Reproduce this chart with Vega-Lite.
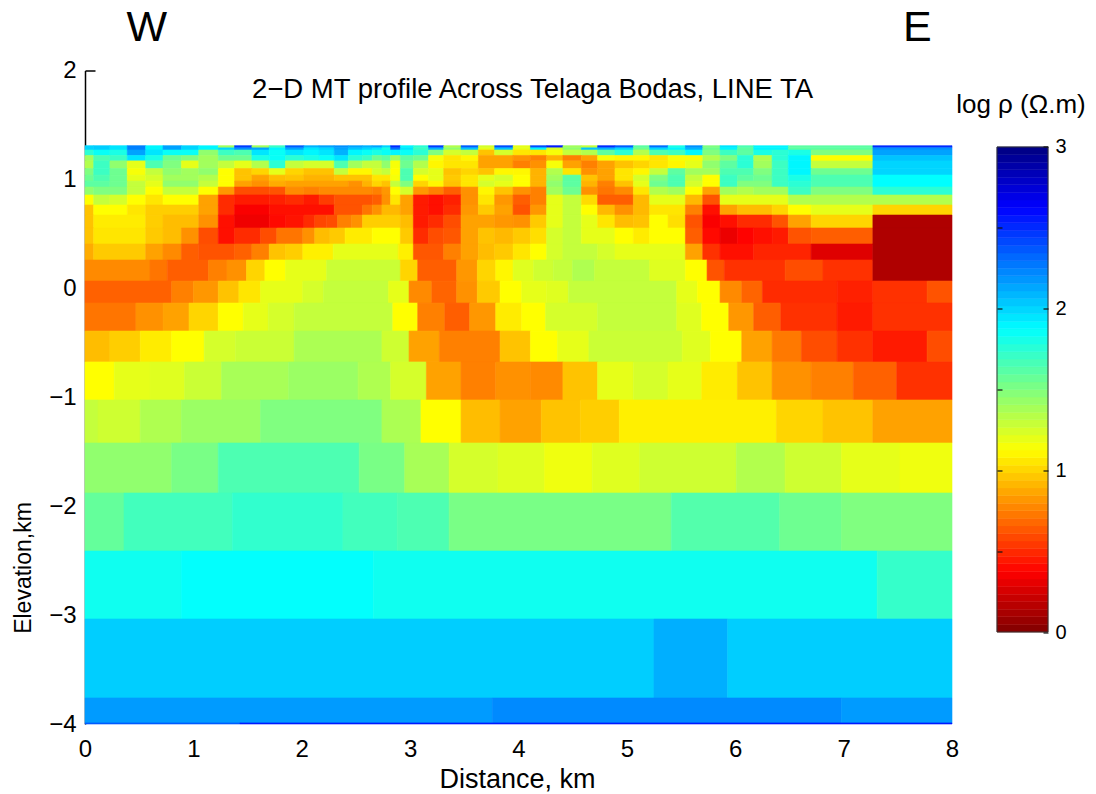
{
"$schema":"https://vega.github.io/schema/vega-lite/v6.json",
"padding":{"left":12,"top":6.5,"right":0,"bottom":0},
"background":"white",
"bounds":"flush",
"spacing":45,
"config":{"view":{"stroke":null},"font":"Liberation Sans"},
"datasets":{"cells":[
{"x":0,"x2":0.08,"y":1.31,"y2":1.27,"v":2.0},{"x":0.08,"x2":0.23,"y":1.31,"y2":1.27,"v":2.02},{"x":0.23,"x2":0.39,"y":1.31,"y2":1.27,"v":1.95},{"x":0.39,"x2":0.56,"y":1.31,"y2":1.27,"v":2.25},{"x":0.56,"x2":0.72,"y":1.31,"y2":1.27,"v":1.9},{"x":0.72,"x2":0.89,"y":1.31,"y2":1.27,"v":2.15},{"x":0.89,"x2":1.05,"y":1.31,"y2":1.27,"v":2.0},{"x":1.05,"x2":1.23,"y":1.31,"y2":1.27,"v":1.9},
{"x":1.23,"x2":1.38,"y":1.31,"y2":1.29,"v":1.4},{"x":1.38,"x2":1.54,"y":1.31,"y2":1.29,"v":2.45},{"x":1.54,"x2":1.7,"y":1.31,"y2":1.29,"v":1.4},{"x":1.7,"x2":1.85,"y":1.31,"y2":1.29,"v":1.7},{"x":1.85,"x2":2.02,"y":1.31,"y2":1.29,"v":2.35},{"x":2.02,"x2":2.16,"y":1.31,"y2":1.29,"v":2.1},{"x":2.16,"x2":2.3,"y":1.31,"y2":1.29,"v":2.15},{"x":2.3,"x2":2.43,"y":1.31,"y2":1.29,"v":2.2},{"x":2.43,"x2":2.56,"y":1.31,"y2":1.29,"v":2.15},{"x":2.56,"x2":2.65,"y":1.31,"y2":1.29,"v":2.1},{"x":2.65,"x2":2.74,"y":1.31,"y2":1.29,"v":2.15},{"x":2.74,"x2":2.82,"y":1.31,"y2":1.29,"v":2.0},{"x":2.82,"x2":2.91,"y":1.31,"y2":1.29,"v":2.5},{"x":2.91,"x2":3.03,"y":1.31,"y2":1.29,"v":1.9},{"x":3.03,"x2":3.17,"y":1.31,"y2":1.29,"v":1.75},{"x":3.17,"x2":3.31,"y":1.31,"y2":1.29,"v":2.45},{"x":3.31,"x2":3.47,"y":1.31,"y2":1.29,"v":1.35},{"x":3.47,"x2":3.63,"y":1.31,"y2":1.29,"v":2.35},{"x":3.63,"x2":3.78,"y":1.31,"y2":1.29,"v":1.25},{"x":3.78,"x2":3.95,"y":1.31,"y2":1.29,"v":2.4},{"x":3.95,"x2":4.11,"y":1.31,"y2":1.29,"v":1.2},{"x":4.11,"x2":4.26,"y":1.31,"y2":1.29,"v":2.4},{"x":4.26,"x2":4.41,"y":1.31,"y2":1.29,"v":2.55},{"x":4.41,"x2":4.58,"y":1.31,"y2":1.29,"v":1.4},{"x":4.58,"x2":4.73,"y":1.31,"y2":1.29,"v":1.3},{"x":4.73,"x2":4.89,"y":1.31,"y2":1.29,"v":2.5},{"x":4.89,"x2":5.06,"y":1.31,"y2":1.29,"v":2.35},{"x":5.06,"x2":5.21,"y":1.31,"y2":1.29,"v":1.6},{"x":5.21,"x2":5.38,"y":1.31,"y2":1.29,"v":2.3},{"x":5.38,"x2":5.54,"y":1.31,"y2":1.29,"v":1.8},{"x":5.54,"x2":5.7,"y":1.31,"y2":1.29,"v":2.2},{"x":5.7,"x2":5.86,"y":1.31,"y2":1.29,"v":1.5},{"x":5.86,"x2":6.02,"y":1.31,"y2":1.29,"v":1.95},{"x":6.02,"x2":6.17,"y":1.31,"y2":1.29,"v":1.65},{"x":6.17,"x2":6.49,"y":1.31,"y2":1.29,"v":1.9},{"x":6.49,"x2":7.27,"y":1.31,"y2":1.29,"v":1.6},{"x":7.27,"x2":8,"y":1.31,"y2":1.29,"v":2.5},
{"x":1.23,"x2":1.38,"y":1.29,"y2":1.27,"v":2.0},{"x":1.38,"x2":1.54,"y":1.29,"y2":1.27,"v":2.2},{"x":1.54,"x2":1.7,"y":1.29,"y2":1.27,"v":2.15},{"x":1.7,"x2":1.85,"y":1.29,"y2":1.27,"v":1.9},{"x":1.85,"x2":2.02,"y":1.29,"y2":1.27,"v":2.15},{"x":2.02,"x2":2.16,"y":1.29,"y2":1.27,"v":1.95},{"x":2.16,"x2":2.3,"y":1.29,"y2":1.27,"v":2.0},{"x":2.3,"x2":2.43,"y":1.29,"y2":1.27,"v":2.15},{"x":2.43,"x2":2.56,"y":1.29,"y2":1.27,"v":2.05},{"x":2.56,"x2":2.65,"y":1.29,"y2":1.27,"v":2.0},{"x":2.65,"x2":2.74,"y":1.29,"y2":1.27,"v":1.95},{"x":2.74,"x2":2.82,"y":1.29,"y2":1.27,"v":1.8},{"x":2.82,"x2":2.91,"y":1.29,"y2":1.27,"v":2.3},{"x":2.91,"x2":3.03,"y":1.29,"y2":1.27,"v":1.95},{"x":3.03,"x2":3.17,"y":1.29,"y2":1.27,"v":1.7},{"x":3.17,"x2":3.31,"y":1.29,"y2":1.27,"v":2.1},{"x":3.31,"x2":3.47,"y":1.29,"y2":1.27,"v":1.45},{"x":3.47,"x2":3.63,"y":1.29,"y2":1.27,"v":2.05},{"x":3.63,"x2":3.78,"y":1.29,"y2":1.27,"v":1.2},{"x":3.78,"x2":3.95,"y":1.29,"y2":1.27,"v":2.05},{"x":3.95,"x2":4.11,"y":1.29,"y2":1.27,"v":1.2},{"x":4.11,"x2":4.26,"y":1.29,"y2":1.27,"v":1.9},{"x":4.26,"x2":4.41,"y":1.29,"y2":1.27,"v":1.25},{"x":4.41,"x2":4.58,"y":1.29,"y2":1.27,"v":1.45},{"x":4.58,"x2":4.73,"y":1.29,"y2":1.27,"v":2.05},{"x":4.73,"x2":4.89,"y":1.29,"y2":1.27,"v":2.1},{"x":4.89,"x2":5.06,"y":1.29,"y2":1.27,"v":2.0},{"x":5.06,"x2":5.21,"y":1.29,"y2":1.27,"v":1.55},{"x":5.21,"x2":5.38,"y":1.29,"y2":1.27,"v":2.0},{"x":5.38,"x2":5.54,"y":1.29,"y2":1.27,"v":1.9},{"x":5.54,"x2":5.7,"y":1.29,"y2":1.27,"v":2.1},{"x":5.7,"x2":5.86,"y":1.29,"y2":1.27,"v":1.55},{"x":5.86,"x2":6.02,"y":1.29,"y2":1.27,"v":1.9},{"x":6.02,"x2":6.17,"y":1.29,"y2":1.27,"v":1.6},{"x":6.17,"x2":6.49,"y":1.29,"y2":1.27,"v":1.9},{"x":6.49,"x2":7.27,"y":1.29,"y2":1.27,"v":1.6},{"x":7.27,"x2":8,"y":1.29,"y2":1.27,"v":2.2},
{"x":0,"x2":0.08,"y":1.27,"y2":1.22,"v":1.75},{"x":0.08,"x2":0.23,"y":1.27,"y2":1.22,"v":1.85},{"x":0.23,"x2":0.39,"y":1.27,"y2":1.22,"v":1.8},{"x":0.39,"x2":0.56,"y":1.27,"y2":1.22,"v":2.15},{"x":0.56,"x2":0.72,"y":1.27,"y2":1.22,"v":1.95},{"x":0.72,"x2":1.05,"y":1.27,"y2":1.22,"v":1.85},{"x":1.05,"x2":1.23,"y":1.27,"y2":1.22,"v":1.45},{"x":1.23,"x2":1.38,"y":1.27,"y2":1.22,"v":1.7},{"x":1.38,"x2":1.54,"y":1.27,"y2":1.22,"v":1.65},{"x":1.54,"x2":1.7,"y":1.27,"y2":1.22,"v":1.95},{"x":1.7,"x2":1.85,"y":1.27,"y2":1.22,"v":1.85},{"x":1.85,"x2":2.02,"y":1.27,"y2":1.22,"v":1.95},{"x":2.02,"x2":2.16,"y":1.27,"y2":1.22,"v":1.9},{"x":2.16,"x2":2.3,"y":1.27,"y2":1.22,"v":1.95},{"x":2.3,"x2":2.43,"y":1.27,"y2":1.22,"v":2.1},{"x":2.43,"x2":2.56,"y":1.27,"y2":1.22,"v":1.9},{"x":2.56,"x2":2.65,"y":1.27,"y2":1.22,"v":1.85},{"x":2.65,"x2":2.74,"y":1.27,"y2":1.22,"v":1.8},{"x":2.74,"x2":2.82,"y":1.27,"y2":1.22,"v":1.85},{"x":2.82,"x2":2.91,"y":1.27,"y2":1.22,"v":1.9},{"x":2.91,"x2":3.03,"y":1.27,"y2":1.22,"v":1.85},{"x":3.03,"x2":3.17,"y":1.27,"y2":1.22,"v":1.75},{"x":3.17,"x2":3.31,"y":1.27,"y2":1.22,"v":1.5},{"x":3.31,"x2":3.47,"y":1.27,"y2":1.22,"v":1.25},{"x":3.47,"x2":3.63,"y":1.27,"y2":1.22,"v":1.3},{"x":3.63,"x2":3.78,"y":1.27,"y2":1.22,"v":0.95},{"x":3.78,"x2":3.95,"y":1.27,"y2":1.22,"v":1.25},{"x":3.95,"x2":4.11,"y":1.27,"y2":1.22,"v":1.05},{"x":4.11,"x2":4.26,"y":1.27,"y2":1.22,"v":1.05},{"x":4.26,"x2":4.41,"y":1.27,"y2":1.22,"v":1.15},{"x":4.41,"x2":4.58,"y":1.27,"y2":1.22,"v":1.3},{"x":4.58,"x2":4.73,"y":1.27,"y2":1.22,"v":1.35},{"x":4.73,"x2":4.89,"y":1.27,"y2":1.22,"v":1.6},{"x":4.89,"x2":5.06,"y":1.27,"y2":1.22,"v":1.75},{"x":5.06,"x2":5.21,"y":1.27,"y2":1.22,"v":1.35},{"x":5.21,"x2":5.38,"y":1.27,"y2":1.22,"v":1.65},{"x":5.38,"x2":5.54,"y":1.27,"y2":1.22,"v":1.7},{"x":5.54,"x2":5.7,"y":1.27,"y2":1.22,"v":1.9},{"x":5.7,"x2":5.86,"y":1.27,"y2":1.22,"v":1.5},{"x":5.86,"x2":6.02,"y":1.27,"y2":1.22,"v":1.7},{"x":6.02,"x2":6.17,"y":1.27,"y2":1.22,"v":1.6},{"x":6.17,"x2":6.34,"y":1.27,"y2":1.22,"v":1.8},{"x":6.34,"x2":6.49,"y":1.27,"y2":1.22,"v":1.75},{"x":6.49,"x2":6.7,"y":1.27,"y2":1.22,"v":1.8},{"x":6.7,"x2":7.27,"y":1.27,"y2":1.22,"v":1.5},{"x":7.27,"x2":8,"y":1.27,"y2":1.22,"v":2.15},
{"x":0,"x2":0.08,"y":1.22,"y2":1.17,"v":1.4},{"x":0.08,"x2":0.23,"y":1.22,"y2":1.17,"v":1.65},{"x":0.23,"x2":0.39,"y":1.22,"y2":1.17,"v":1.7},{"x":0.39,"x2":0.56,"y":1.22,"y2":1.17,"v":1.95},{"x":0.56,"x2":0.72,"y":1.22,"y2":1.17,"v":1.8},{"x":0.72,"x2":0.89,"y":1.22,"y2":1.17,"v":1.55},{"x":0.89,"x2":1.05,"y":1.22,"y2":1.17,"v":1.5},{"x":1.05,"x2":1.23,"y":1.22,"y2":1.17,"v":1.4},{"x":1.23,"x2":1.54,"y":1.22,"y2":1.17,"v":1.55},{"x":1.54,"x2":1.7,"y":1.22,"y2":1.17,"v":1.8},{"x":1.7,"x2":1.85,"y":1.22,"y2":1.17,"v":1.85},{"x":1.85,"x2":2.02,"y":1.22,"y2":1.17,"v":1.75},{"x":2.02,"x2":2.16,"y":1.22,"y2":1.17,"v":1.8},{"x":2.16,"x2":2.3,"y":1.22,"y2":1.17,"v":1.85},{"x":2.3,"x2":2.43,"y":1.22,"y2":1.17,"v":1.95},{"x":2.43,"x2":2.56,"y":1.22,"y2":1.17,"v":1.75},{"x":2.56,"x2":2.65,"y":1.22,"y2":1.17,"v":1.7},{"x":2.65,"x2":2.74,"y":1.22,"y2":1.17,"v":1.55},{"x":2.74,"x2":2.82,"y":1.22,"y2":1.17,"v":1.6},{"x":2.82,"x2":2.91,"y":1.22,"y2":1.17,"v":1.4},{"x":2.91,"x2":3.03,"y":1.22,"y2":1.17,"v":1.6},{"x":3.03,"x2":3.17,"y":1.22,"y2":1.17,"v":1.55},{"x":3.17,"x2":3.31,"y":1.22,"y2":1.17,"v":1.15},{"x":3.31,"x2":3.47,"y":1.22,"y2":1.17,"v":1.05},{"x":3.47,"x2":3.63,"y":1.22,"y2":1.17,"v":1.1},{"x":3.63,"x2":3.95,"y":1.22,"y2":1.17,"v":0.85},{"x":3.95,"x2":4.11,"y":1.22,"y2":1.17,"v":0.8},{"x":4.11,"x2":4.26,"y":1.22,"y2":1.17,"v":0.75},{"x":4.26,"x2":4.41,"y":1.22,"y2":1.17,"v":0.9},{"x":4.41,"x2":4.58,"y":1.22,"y2":1.17,"v":0.75},{"x":4.58,"x2":4.73,"y":1.22,"y2":1.17,"v":0.85},{"x":4.73,"x2":4.89,"y":1.22,"y2":1.17,"v":1.15},{"x":4.89,"x2":5.21,"y":1.22,"y2":1.17,"v":1.1},{"x":5.21,"x2":5.38,"y":1.22,"y2":1.17,"v":1.05},{"x":5.38,"x2":5.7,"y":1.22,"y2":1.17,"v":1.15},{"x":5.7,"x2":5.86,"y":1.22,"y2":1.17,"v":1.35},{"x":5.86,"x2":6.02,"y":1.22,"y2":1.17,"v":1.5},{"x":6.02,"x2":6.17,"y":1.22,"y2":1.17,"v":1.75},{"x":6.17,"x2":6.34,"y":1.22,"y2":1.17,"v":1.35},{"x":6.34,"x2":6.49,"y":1.22,"y2":1.17,"v":1.75},{"x":6.49,"x2":6.7,"y":1.22,"y2":1.17,"v":1.9},{"x":6.7,"x2":7.27,"y":1.22,"y2":1.17,"v":1.125},{"x":7.27,"x2":8,"y":1.22,"y2":1.17,"v":2.05},
{"x":0,"x2":0.08,"y":1.17,"y2":1.1,"v":1.35},{"x":0.08,"x2":0.23,"y":1.17,"y2":1.1,"v":1.7},{"x":0.23,"x2":0.39,"y":1.17,"y2":1.1,"v":1.45},{"x":0.39,"x2":0.56,"y":1.17,"y2":1.1,"v":1.2},{"x":0.56,"x2":0.72,"y":1.17,"y2":1.1,"v":1.65},{"x":0.72,"x2":0.89,"y":1.17,"y2":1.1,"v":1.5},{"x":0.89,"x2":1.05,"y":1.17,"y2":1.1,"v":1.2},{"x":1.05,"x2":1.23,"y":1.17,"y2":1.1,"v":1.4},{"x":1.23,"x2":1.38,"y":1.17,"y2":1.1,"v":1.3},{"x":1.38,"x2":1.54,"y":1.17,"y2":1.1,"v":1.2},{"x":1.54,"x2":1.7,"y":1.17,"y2":1.1,"v":1.35},{"x":1.7,"x2":1.85,"y":1.17,"y2":1.1,"v":1.75},{"x":1.85,"x2":2.02,"y":1.17,"y2":1.1,"v":1.3},{"x":2.02,"x2":2.3,"y":1.17,"y2":1.1,"v":1.25},{"x":2.3,"x2":2.43,"y":1.17,"y2":1.1,"v":1.65},{"x":2.43,"x2":2.56,"y":1.17,"y2":1.1,"v":1.4},{"x":2.56,"x2":2.74,"y":1.17,"y2":1.1,"v":1.3},{"x":2.74,"x2":2.82,"y":1.17,"y2":1.1,"v":1.45},{"x":2.82,"x2":2.91,"y":1.17,"y2":1.1,"v":1.15},{"x":2.91,"x2":3.03,"y":1.17,"y2":1.1,"v":1.55},{"x":3.03,"x2":3.17,"y":1.17,"y2":1.1,"v":1.35},{"x":3.17,"x2":3.31,"y":1.17,"y2":1.1,"v":1.1},{"x":3.31,"x2":3.63,"y":1.17,"y2":1.1,"v":1.05},{"x":3.63,"x2":3.95,"y":1.17,"y2":1.1,"v":0.85},{"x":3.95,"x2":4.11,"y":1.17,"y2":1.1,"v":0.75},{"x":4.11,"x2":4.26,"y":1.17,"y2":1.1,"v":0.8},{"x":4.26,"x2":4.41,"y":1.17,"y2":1.1,"v":1.15},{"x":4.41,"x2":4.58,"y":1.17,"y2":1.1,"v":0.85},{"x":4.58,"x2":4.73,"y":1.17,"y2":1.1,"v":0.75},{"x":4.73,"x2":4.89,"y":1.17,"y2":1.1,"v":0.85},{"x":4.89,"x2":5.06,"y":1.17,"y2":1.1,"v":0.95},{"x":5.06,"x2":5.21,"y":1.17,"y2":1.1,"v":1.0},{"x":5.21,"x2":5.38,"y":1.17,"y2":1.1,"v":1.05},{"x":5.38,"x2":5.54,"y":1.17,"y2":1.1,"v":1.1},{"x":5.54,"x2":5.7,"y":1.17,"y2":1.1,"v":1.2},{"x":5.7,"x2":5.86,"y":1.17,"y2":1.1,"v":1.45},{"x":5.86,"x2":6.02,"y":1.17,"y2":1.1,"v":1.6},{"x":6.02,"x2":6.17,"y":1.17,"y2":1.1,"v":1.75},{"x":6.17,"x2":6.34,"y":1.17,"y2":1.1,"v":1.4},{"x":6.34,"x2":6.49,"y":1.17,"y2":1.1,"v":1.7},{"x":6.49,"x2":6.7,"y":1.17,"y2":1.1,"v":1.9},{"x":6.7,"x2":7.27,"y":1.17,"y2":1.1,"v":1.3},{"x":7.27,"x2":8,"y":1.17,"y2":1.1,"v":2.0},
{"x":0,"x2":0.08,"y":1.1,"y2":1.04,"v":1.5},{"x":0.08,"x2":0.23,"y":1.1,"y2":1.04,"v":1.7},{"x":0.23,"x2":0.39,"y":1.1,"y2":1.04,"v":1.55},{"x":0.39,"x2":0.56,"y":1.1,"y2":1.04,"v":1.15},{"x":0.56,"x2":0.72,"y":1.1,"y2":1.04,"v":1.3},{"x":0.72,"x2":0.89,"y":1.1,"y2":1.04,"v":1.45},{"x":0.89,"x2":1.05,"y":1.1,"y2":1.04,"v":1.4},{"x":1.05,"x2":1.23,"y":1.1,"y2":1.04,"v":1.45},{"x":1.23,"x2":1.38,"y":1.1,"y2":1.04,"v":1.125},{"x":1.38,"x2":1.54,"y":1.1,"y2":1.04,"v":0.95},{"x":1.54,"x2":1.7,"y":1.1,"y2":1.04,"v":1.0},{"x":1.7,"x2":1.85,"y":1.1,"y2":1.04,"v":1.2},{"x":1.85,"x2":2.02,"y":1.1,"y2":1.04,"v":1.0},{"x":2.02,"x2":2.3,"y":1.1,"y2":1.04,"v":0.95},{"x":2.3,"x2":2.43,"y":1.1,"y2":1.04,"v":1.3},{"x":2.43,"x2":2.65,"y":1.1,"y2":1.04,"v":1.1},{"x":2.65,"x2":2.74,"y":1.1,"y2":1.04,"v":1.25},{"x":2.74,"x2":2.82,"y":1.1,"y2":1.04,"v":1.3},{"x":2.82,"x2":2.91,"y":1.1,"y2":1.04,"v":1.125},{"x":2.91,"x2":3.03,"y":1.1,"y2":1.04,"v":1.65},{"x":3.03,"x2":3.17,"y":1.1,"y2":1.04,"v":1.25},{"x":3.17,"x2":3.31,"y":1.1,"y2":1.04,"v":1.2},{"x":3.31,"x2":3.47,"y":1.1,"y2":1.04,"v":0.95},{"x":3.47,"x2":3.63,"y":1.1,"y2":1.04,"v":1.0},{"x":3.63,"x2":3.78,"y":1.1,"y2":1.04,"v":0.95},{"x":3.78,"x2":3.95,"y":1.1,"y2":1.04,"v":1.1},{"x":3.95,"x2":4.11,"y":1.1,"y2":1.04,"v":1.1},{"x":4.11,"x2":4.26,"y":1.1,"y2":1.04,"v":0.9},{"x":4.26,"x2":4.41,"y":1.1,"y2":1.04,"v":1.35},{"x":4.41,"x2":4.58,"y":1.1,"y2":1.04,"v":1.05},{"x":4.58,"x2":4.73,"y":1.1,"y2":1.04,"v":0.8},{"x":4.73,"x2":4.89,"y":1.1,"y2":1.04,"v":0.85},{"x":4.89,"x2":5.06,"y":1.1,"y2":1.04,"v":1.05},{"x":5.06,"x2":5.21,"y":1.1,"y2":1.04,"v":1.1},{"x":5.21,"x2":5.38,"y":1.1,"y2":1.04,"v":1.3},{"x":5.38,"x2":5.54,"y":1.1,"y2":1.04,"v":1.6},{"x":5.54,"x2":5.86,"y":1.1,"y2":1.04,"v":1.4},{"x":5.86,"x2":6.17,"y":1.1,"y2":1.04,"v":1.65},{"x":6.17,"x2":6.34,"y":1.1,"y2":1.04,"v":1.5},{"x":6.34,"x2":6.49,"y":1.1,"y2":1.04,"v":1.7},{"x":6.49,"x2":6.7,"y":1.1,"y2":1.04,"v":1.9},{"x":6.7,"x2":7.27,"y":1.1,"y2":1.04,"v":1.55},{"x":7.27,"x2":8,"y":1.1,"y2":1.04,"v":2.0},
{"x":0,"x2":0.08,"y":1.04,"y2":0.985,"v":1.55},{"x":0.08,"x2":0.23,"y":1.04,"y2":0.985,"v":1.65},{"x":0.23,"x2":0.39,"y":1.04,"y2":0.985,"v":1.55},{"x":0.39,"x2":0.56,"y":1.04,"y2":0.985,"v":1.2},{"x":0.56,"x2":0.72,"y":1.04,"y2":0.985,"v":1.25},{"x":0.72,"x2":1.05,"y":1.04,"y2":0.985,"v":1.4},{"x":1.05,"x2":1.23,"y":1.04,"y2":0.985,"v":1.35},{"x":1.23,"x2":1.38,"y":1.04,"y2":0.985,"v":1.125},{"x":1.38,"x2":1.54,"y":1.04,"y2":0.985,"v":0.95},{"x":1.54,"x2":1.7,"y":1.04,"y2":0.985,"v":0.85},{"x":1.7,"x2":1.85,"y":1.04,"y2":0.985,"v":0.93},{"x":1.85,"x2":2.02,"y":1.04,"y2":0.985,"v":0.95},{"x":2.02,"x2":2.3,"y":1.04,"y2":0.985,"v":0.9},{"x":2.3,"x2":2.65,"y":1.04,"y2":0.985,"v":0.95},{"x":2.65,"x2":2.82,"y":1.04,"y2":0.985,"v":1.05},{"x":2.82,"x2":2.91,"y":1.04,"y2":0.985,"v":1.15},{"x":2.91,"x2":3.03,"y":1.04,"y2":0.985,"v":1.65},{"x":3.03,"x2":3.17,"y":1.04,"y2":0.985,"v":1.125},{"x":3.17,"x2":3.31,"y":1.04,"y2":0.985,"v":1.2},{"x":3.31,"x2":3.47,"y":1.04,"y2":0.985,"v":0.97},{"x":3.47,"x2":3.63,"y":1.04,"y2":0.985,"v":1.05},{"x":3.63,"x2":3.78,"y":1.04,"y2":0.985,"v":1.2},{"x":3.78,"x2":3.95,"y":1.04,"y2":0.985,"v":1.25},{"x":3.95,"x2":4.11,"y":1.04,"y2":0.985,"v":1.125},{"x":4.11,"x2":4.26,"y":1.04,"y2":0.985,"v":0.9},{"x":4.26,"x2":4.41,"y":1.04,"y2":0.985,"v":1.4},{"x":4.41,"x2":4.58,"y":1.04,"y2":0.985,"v":1.6},{"x":4.58,"x2":4.73,"y":1.04,"y2":0.985,"v":0.95},{"x":4.73,"x2":4.89,"y":1.04,"y2":0.985,"v":0.85},{"x":4.89,"x2":5.06,"y":1.04,"y2":0.985,"v":1.05},{"x":5.06,"x2":5.21,"y":1.04,"y2":0.985,"v":1.25},{"x":5.21,"x2":5.38,"y":1.04,"y2":0.985,"v":1.5},{"x":5.38,"x2":5.54,"y":1.04,"y2":0.985,"v":1.65},{"x":5.54,"x2":5.7,"y":1.04,"y2":0.985,"v":1.3},{"x":5.7,"x2":5.86,"y":1.04,"y2":0.985,"v":1.125},{"x":5.86,"x2":6.02,"y":1.04,"y2":0.985,"v":1.7},{"x":6.02,"x2":6.17,"y":1.04,"y2":0.985,"v":1.6},{"x":6.17,"x2":6.34,"y":1.04,"y2":0.985,"v":1.55},{"x":6.34,"x2":6.49,"y":1.04,"y2":0.985,"v":1.7},{"x":6.49,"x2":6.7,"y":1.04,"y2":0.985,"v":1.8},{"x":6.7,"x2":7.27,"y":1.04,"y2":0.985,"v":1.65},{"x":7.27,"x2":8,"y":1.04,"y2":0.985,"v":1.875},
{"x":0,"x2":0.23,"y":0.985,"y2":0.93,"v":1.6},{"x":0.23,"x2":0.39,"y":0.985,"y2":0.93,"v":1.55},{"x":0.39,"x2":0.56,"y":0.985,"y2":0.93,"v":1.3},{"x":0.56,"x2":0.72,"y":0.985,"y2":0.93,"v":1.2},{"x":0.72,"x2":1.05,"y":0.985,"y2":0.93,"v":1.45},{"x":1.05,"x2":1.23,"y":0.985,"y2":0.93,"v":1.3},{"x":1.23,"x2":1.38,"y":0.985,"y2":0.93,"v":1.125},{"x":1.38,"x2":1.54,"y":0.985,"y2":0.93,"v":0.85},{"x":1.54,"x2":1.7,"y":0.985,"y2":0.93,"v":0.8},{"x":1.7,"x2":1.85,"y":0.985,"y2":0.93,"v":0.88},{"x":1.85,"x2":2.43,"y":0.985,"y2":0.93,"v":0.85},{"x":2.43,"x2":2.56,"y":0.985,"y2":0.93,"v":0.8},{"x":2.56,"x2":2.65,"y":0.985,"y2":0.93,"v":0.9},{"x":2.65,"x2":2.74,"y":0.985,"y2":0.93,"v":1.0},{"x":2.74,"x2":2.82,"y":0.985,"y2":0.93,"v":0.95},{"x":2.82,"x2":2.91,"y":0.985,"y2":0.93,"v":1.3},{"x":2.91,"x2":3.03,"y":0.985,"y2":0.93,"v":1.5},{"x":3.03,"x2":3.17,"y":0.985,"y2":0.93,"v":1.0},{"x":3.17,"x2":3.31,"y":0.985,"y2":0.93,"v":1.1},{"x":3.31,"x2":3.47,"y":0.985,"y2":0.93,"v":0.95},{"x":3.47,"x2":3.63,"y":0.985,"y2":0.93,"v":1.05},{"x":3.63,"x2":3.78,"y":0.985,"y2":0.93,"v":1.25},{"x":3.78,"x2":3.95,"y":0.985,"y2":0.93,"v":1.2},{"x":3.95,"x2":4.11,"y":0.985,"y2":0.93,"v":1.125},{"x":4.11,"x2":4.26,"y":0.985,"y2":0.93,"v":0.9},{"x":4.26,"x2":4.41,"y":0.985,"y2":0.93,"v":1.45},{"x":4.41,"x2":4.58,"y":0.985,"y2":0.93,"v":1.6},{"x":4.58,"x2":4.73,"y":0.985,"y2":0.93,"v":0.9},{"x":4.73,"x2":4.89,"y":0.985,"y2":0.93,"v":0.75},{"x":4.89,"x2":5.06,"y":0.985,"y2":0.93,"v":0.95},{"x":5.06,"x2":5.21,"y":0.985,"y2":0.93,"v":1.2},{"x":5.21,"x2":5.38,"y":0.985,"y2":0.93,"v":1.55},{"x":5.38,"x2":5.54,"y":0.985,"y2":0.93,"v":1.65},{"x":5.54,"x2":5.7,"y":0.985,"y2":0.93,"v":1.25},{"x":5.7,"x2":5.86,"y":0.985,"y2":0.93,"v":1.125},{"x":5.86,"x2":6.02,"y":0.985,"y2":0.93,"v":1.7},{"x":6.02,"x2":6.34,"y":0.985,"y2":0.93,"v":1.5},{"x":6.34,"x2":6.49,"y":0.985,"y2":0.93,"v":1.7},{"x":6.49,"x2":6.7,"y":0.985,"y2":0.93,"v":1.75},{"x":6.7,"x2":7.27,"y":0.985,"y2":0.93,"v":1.65},{"x":7.27,"x2":8,"y":0.985,"y2":0.93,"v":1.875},
{"x":0,"x2":0.08,"y":0.93,"y2":0.857,"v":1.45},{"x":0.08,"x2":0.39,"y":0.93,"y2":0.857,"v":1.5},{"x":0.39,"x2":0.56,"y":0.93,"y2":0.857,"v":1.3},{"x":0.56,"x2":0.72,"y":0.93,"y2":0.857,"v":1.125},{"x":0.72,"x2":1.05,"y":0.93,"y2":0.857,"v":1.3},{"x":1.05,"x2":1.23,"y":0.93,"y2":0.857,"v":1.125},{"x":1.23,"x2":1.38,"y":0.93,"y2":0.857,"v":0.82},{"x":1.38,"x2":1.7,"y":0.93,"y2":0.857,"v":0.6},{"x":1.7,"x2":1.85,"y":0.93,"y2":0.857,"v":0.62},{"x":1.85,"x2":2.02,"y":0.93,"y2":0.857,"v":0.78},{"x":2.02,"x2":2.16,"y":0.93,"y2":0.857,"v":0.75},{"x":2.16,"x2":2.65,"y":0.93,"y2":0.857,"v":0.78},{"x":2.65,"x2":2.74,"y":0.93,"y2":0.857,"v":0.75},{"x":2.74,"x2":2.82,"y":0.93,"y2":0.857,"v":0.82},{"x":2.82,"x2":2.91,"y":0.93,"y2":0.857,"v":1.125},{"x":2.91,"x2":3.03,"y":0.93,"y2":0.857,"v":1.25},{"x":3.03,"x2":3.17,"y":0.93,"y2":0.857,"v":0.82},{"x":3.17,"x2":3.31,"y":0.93,"y2":0.857,"v":0.75},{"x":3.31,"x2":3.47,"y":0.93,"y2":0.857,"v":0.65},{"x":3.47,"x2":3.63,"y":0.93,"y2":0.857,"v":0.8},{"x":3.63,"x2":3.78,"y":0.93,"y2":0.857,"v":1.1},{"x":3.78,"x2":3.95,"y":0.93,"y2":0.857,"v":0.95},{"x":3.95,"x2":4.11,"y":0.93,"y2":0.857,"v":0.8},{"x":4.11,"x2":4.26,"y":0.93,"y2":0.857,"v":0.75},{"x":4.26,"x2":4.41,"y":0.93,"y2":0.857,"v":1.4},{"x":4.41,"x2":4.58,"y":0.93,"y2":0.857,"v":1.55},{"x":4.58,"x2":4.73,"y":0.93,"y2":0.857,"v":0.8},{"x":4.73,"x2":4.89,"y":0.93,"y2":0.857,"v":0.72},{"x":4.89,"x2":5.06,"y":0.93,"y2":0.857,"v":0.78},{"x":5.06,"x2":5.21,"y":0.93,"y2":0.857,"v":1.05},{"x":5.21,"x2":5.38,"y":0.93,"y2":0.857,"v":1.35},{"x":5.38,"x2":5.54,"y":0.93,"y2":0.857,"v":1.4},{"x":5.54,"x2":5.7,"y":0.93,"y2":0.857,"v":1.125},{"x":5.7,"x2":5.86,"y":0.93,"y2":0.857,"v":0.85},{"x":5.86,"x2":6.02,"y":0.93,"y2":0.857,"v":1.4},{"x":6.02,"x2":6.17,"y":0.93,"y2":0.857,"v":1.35},{"x":6.17,"x2":6.49,"y":0.93,"y2":0.857,"v":1.4},{"x":6.49,"x2":6.7,"y":0.93,"y2":0.857,"v":1.7},{"x":6.7,"x2":7.27,"y":0.93,"y2":0.857,"v":1.5},{"x":7.27,"x2":8,"y":0.93,"y2":0.857,"v":1.75},
{"x":0,"x2":0.08,"y":0.857,"y2":0.765,"v":1.125},{"x":0.08,"x2":0.23,"y":0.857,"y2":0.765,"v":1.3},{"x":0.23,"x2":0.39,"y":0.857,"y2":0.765,"v":1.25},{"x":0.39,"x2":0.56,"y":0.857,"y2":0.765,"v":1.125},{"x":0.56,"x2":0.72,"y":0.857,"y2":0.765,"v":1.05},{"x":0.72,"x2":1.05,"y":0.857,"y2":0.765,"v":1.125},{"x":1.05,"x2":1.23,"y":0.857,"y2":0.765,"v":0.85},{"x":1.23,"x2":1.38,"y":0.857,"y2":0.765,"v":0.5},{"x":1.38,"x2":1.7,"y":0.857,"y2":0.765,"v":0.45},{"x":1.7,"x2":1.85,"y":0.857,"y2":0.765,"v":0.47},{"x":1.85,"x2":2.02,"y":0.857,"y2":0.765,"v":0.5},{"x":2.02,"x2":2.16,"y":0.857,"y2":0.765,"v":0.45},{"x":2.16,"x2":2.3,"y":0.857,"y2":0.765,"v":0.55},{"x":2.3,"x2":2.65,"y":0.857,"y2":0.765,"v":0.62},{"x":2.65,"x2":2.74,"y":0.857,"y2":0.765,"v":0.65},{"x":2.74,"x2":2.82,"y":0.857,"y2":0.765,"v":0.8},{"x":2.82,"x2":2.91,"y":0.857,"y2":0.765,"v":1.05},{"x":2.91,"x2":3.03,"y":0.857,"y2":0.765,"v":0.85},{"x":3.03,"x2":3.17,"y":0.857,"y2":0.765,"v":0.45},{"x":3.17,"x2":3.31,"y":0.857,"y2":0.765,"v":0.42},{"x":3.31,"x2":3.47,"y":0.857,"y2":0.765,"v":0.47},{"x":3.47,"x2":3.63,"y":0.857,"y2":0.765,"v":0.8},{"x":3.63,"x2":3.78,"y":0.857,"y2":0.765,"v":1.05},{"x":3.78,"x2":3.95,"y":0.857,"y2":0.765,"v":0.82},{"x":3.95,"x2":4.11,"y":0.857,"y2":0.765,"v":0.65},{"x":4.11,"x2":4.26,"y":0.857,"y2":0.765,"v":0.75},{"x":4.26,"x2":4.41,"y":0.857,"y2":0.765,"v":1.2},{"x":4.41,"x2":4.58,"y":0.857,"y2":0.765,"v":1.3},{"x":4.58,"x2":4.73,"y":0.857,"y2":0.765,"v":1.02},{"x":4.73,"x2":5.06,"y":0.857,"y2":0.765,"v":0.65},{"x":5.06,"x2":5.21,"y":0.857,"y2":0.765,"v":0.92},{"x":5.21,"x2":5.54,"y":0.857,"y2":0.765,"v":1.2},{"x":5.54,"x2":5.7,"y":0.857,"y2":0.765,"v":0.92},{"x":5.7,"x2":5.86,"y":0.857,"y2":0.765,"v":0.62},{"x":5.86,"x2":6.49,"y":0.857,"y2":0.765,"v":1.2},{"x":6.49,"x2":8,"y":0.857,"y2":0.765,"v":1.35},
{"x":0,"x2":0.08,"y":0.765,"y2":0.673,"v":0.95},{"x":0.08,"x2":0.39,"y":0.765,"y2":0.673,"v":1.125},{"x":0.39,"x2":0.56,"y":0.765,"y2":0.673,"v":1.05},{"x":0.56,"x2":1.05,"y":0.765,"y2":0.673,"v":0.98},{"x":1.05,"x2":1.23,"y":0.765,"y2":0.673,"v":0.85},{"x":1.23,"x2":1.38,"y":0.765,"y2":0.673,"v":0.5},{"x":1.38,"x2":1.7,"y":0.765,"y2":0.673,"v":0.36},{"x":1.7,"x2":2.3,"y":0.765,"y2":0.673,"v":0.42},{"x":2.3,"x2":2.56,"y":0.765,"y2":0.673,"v":0.62},{"x":2.56,"x2":2.65,"y":0.765,"y2":0.673,"v":0.72},{"x":2.65,"x2":2.74,"y":0.765,"y2":0.673,"v":0.8},{"x":2.74,"x2":2.91,"y":0.765,"y2":0.673,"v":0.92},{"x":2.91,"x2":3.03,"y":0.765,"y2":0.673,"v":0.85},{"x":3.03,"x2":3.17,"y":0.765,"y2":0.673,"v":0.45},{"x":3.17,"x2":3.31,"y":0.765,"y2":0.673,"v":0.42},{"x":3.31,"x2":3.47,"y":0.765,"y2":0.673,"v":0.5},{"x":3.47,"x2":3.63,"y":0.765,"y2":0.673,"v":0.82},{"x":3.63,"x2":3.78,"y":0.765,"y2":0.673,"v":0.97},{"x":3.78,"x2":3.95,"y":0.765,"y2":0.673,"v":0.85},{"x":3.95,"x2":4.11,"y":0.765,"y2":0.673,"v":0.62},{"x":4.11,"x2":4.26,"y":0.765,"y2":0.673,"v":0.82},{"x":4.26,"x2":4.41,"y":0.765,"y2":0.673,"v":1.2},{"x":4.41,"x2":4.58,"y":0.765,"y2":0.673,"v":1.3},{"x":4.58,"x2":4.73,"y":0.765,"y2":0.673,"v":1.125},{"x":4.73,"x2":4.89,"y":0.765,"y2":0.673,"v":0.92},{"x":4.89,"x2":5.06,"y":0.765,"y2":0.673,"v":0.8},{"x":5.06,"x2":5.21,"y":0.765,"y2":0.673,"v":0.92},{"x":5.21,"x2":5.54,"y":0.765,"y2":0.673,"v":1.05},{"x":5.54,"x2":5.7,"y":0.765,"y2":0.673,"v":0.75},{"x":5.7,"x2":5.86,"y":0.765,"y2":0.673,"v":0.42},{"x":5.86,"x2":6.02,"y":0.765,"y2":0.673,"v":0.85},{"x":6.02,"x2":6.34,"y":0.765,"y2":0.673,"v":0.93},{"x":6.34,"x2":6.49,"y":0.765,"y2":0.673,"v":1.0},{"x":6.49,"x2":6.7,"y":0.765,"y2":0.673,"v":1.125},{"x":6.7,"x2":7.27,"y":0.765,"y2":0.673,"v":1.2},{"x":7.27,"x2":8,"y":0.765,"y2":0.673,"v":1.0},
{"x":0,"x2":0.08,"y":0.673,"y2":0.554,"v":0.95},{"x":0.08,"x2":0.56,"y":0.673,"y2":0.554,"v":1.07},{"x":0.56,"x2":0.72,"y":0.673,"y2":0.554,"v":0.98},{"x":0.72,"x2":1.05,"y":0.673,"y2":0.554,"v":0.93},{"x":1.05,"x2":1.23,"y":0.673,"y2":0.554,"v":0.8},{"x":1.23,"x2":1.38,"y":0.673,"y2":0.554,"v":0.42},{"x":1.38,"x2":1.7,"y":0.673,"y2":0.554,"v":0.33},{"x":1.7,"x2":1.85,"y":0.673,"y2":0.554,"v":0.4},{"x":1.85,"x2":2.02,"y":0.673,"y2":0.554,"v":0.43},{"x":2.02,"x2":2.12,"y":0.673,"y2":0.554,"v":0.5},{"x":2.12,"x2":2.23,"y":0.673,"y2":0.554,"v":0.58},{"x":2.23,"x2":2.33,"y":0.673,"y2":0.554,"v":0.6},{"x":2.33,"x2":2.46,"y":0.673,"y2":0.554,"v":0.75},{"x":2.46,"x2":2.56,"y":0.673,"y2":0.554,"v":0.8},{"x":2.56,"x2":2.91,"y":0.673,"y2":0.554,"v":0.98},{"x":2.91,"x2":3.03,"y":0.673,"y2":0.554,"v":0.93},{"x":3.03,"x2":3.17,"y":0.673,"y2":0.554,"v":0.45},{"x":3.17,"x2":3.31,"y":0.673,"y2":0.554,"v":0.5},{"x":3.31,"x2":3.47,"y":0.673,"y2":0.554,"v":0.6},{"x":3.47,"x2":3.78,"y":0.673,"y2":0.554,"v":0.85},{"x":3.78,"x2":3.95,"y":0.673,"y2":0.554,"v":0.82},{"x":3.95,"x2":4.11,"y":0.673,"y2":0.554,"v":0.8},{"x":4.11,"x2":4.26,"y":0.673,"y2":0.554,"v":0.97},{"x":4.26,"x2":4.41,"y":0.673,"y2":0.554,"v":1.2},{"x":4.41,"x2":4.58,"y":0.673,"y2":0.554,"v":1.3},{"x":4.58,"x2":4.73,"y":0.673,"y2":0.554,"v":1.2},{"x":4.73,"x2":4.89,"y":0.673,"y2":0.554,"v":1.05},{"x":4.89,"x2":5.06,"y":0.673,"y2":0.554,"v":0.93},{"x":5.06,"x2":5.21,"y":0.673,"y2":0.554,"v":0.95},{"x":5.21,"x2":5.38,"y":0.673,"y2":0.554,"v":1.125},{"x":5.38,"x2":5.54,"y":0.673,"y2":0.554,"v":1.03},{"x":5.54,"x2":5.7,"y":0.673,"y2":0.554,"v":0.62},{"x":5.7,"x2":5.86,"y":0.673,"y2":0.554,"v":0.36},{"x":5.86,"x2":6.02,"y":0.673,"y2":0.554,"v":0.42},{"x":6.02,"x2":6.34,"y":0.673,"y2":0.554,"v":0.5},{"x":6.34,"x2":6.49,"y":0.673,"y2":0.554,"v":0.62},{"x":6.49,"x2":6.7,"y":0.673,"y2":0.554,"v":0.85},{"x":6.7,"x2":7.27,"y":0.673,"y2":0.554,"v":1.0},{"x":7.27,"x2":8,"y":0.673,"y2":0.554,"v":0.14},
{"x":0,"x2":0.08,"y":0.554,"y2":0.407,"v":0.95},{"x":0.08,"x2":0.56,"y":0.554,"y2":0.407,"v":1.05},{"x":0.56,"x2":0.72,"y":0.554,"y2":0.407,"v":0.97},{"x":0.72,"x2":0.89,"y":0.554,"y2":0.407,"v":0.93},{"x":0.89,"x2":1.05,"y":0.554,"y2":0.407,"v":0.8},{"x":1.05,"x2":1.23,"y":0.554,"y2":0.407,"v":0.6},{"x":1.23,"x2":1.38,"y":0.554,"y2":0.407,"v":0.42},{"x":1.38,"x2":1.62,"y":0.554,"y2":0.407,"v":0.5},{"x":1.62,"x2":1.77,"y":0.554,"y2":0.407,"v":0.6},{"x":1.77,"x2":2.01,"y":0.554,"y2":0.407,"v":0.72},{"x":2.01,"x2":2.12,"y":0.554,"y2":0.407,"v":0.8},{"x":2.12,"x2":2.26,"y":0.554,"y2":0.407,"v":0.93},{"x":2.26,"x2":2.4,"y":0.554,"y2":0.407,"v":0.97},{"x":2.4,"x2":2.65,"y":0.554,"y2":0.407,"v":1.07},{"x":2.65,"x2":2.91,"y":0.554,"y2":0.407,"v":1.125},{"x":2.91,"x2":3.03,"y":0.554,"y2":0.407,"v":0.97},{"x":3.03,"x2":3.17,"y":0.554,"y2":0.407,"v":0.5},{"x":3.17,"x2":3.31,"y":0.554,"y2":0.407,"v":0.6},{"x":3.31,"x2":3.47,"y":0.554,"y2":0.407,"v":0.63},{"x":3.47,"x2":3.63,"y":0.554,"y2":0.407,"v":0.85},{"x":3.63,"x2":3.78,"y":0.554,"y2":0.407,"v":0.95},{"x":3.78,"x2":3.95,"y":0.554,"y2":0.407,"v":0.92},{"x":3.95,"x2":4.11,"y":0.554,"y2":0.407,"v":0.97},{"x":4.11,"x2":4.26,"y":0.554,"y2":0.407,"v":1.03},{"x":4.26,"x2":4.41,"y":0.554,"y2":0.407,"v":1.25},{"x":4.41,"x2":4.58,"y":0.554,"y2":0.407,"v":1.3},{"x":4.58,"x2":4.89,"y":0.554,"y2":0.407,"v":1.2},{"x":4.89,"x2":5.06,"y":0.554,"y2":0.407,"v":1.125},{"x":5.06,"x2":5.21,"y":0.554,"y2":0.407,"v":1.07},{"x":5.21,"x2":5.54,"y":0.554,"y2":0.407,"v":1.125},{"x":5.54,"x2":5.7,"y":0.554,"y2":0.407,"v":0.65},{"x":5.7,"x2":5.86,"y":0.554,"y2":0.407,"v":0.4},{"x":5.86,"x2":6.02,"y":0.554,"y2":0.407,"v":0.32},{"x":6.02,"x2":6.17,"y":0.554,"y2":0.407,"v":0.38},{"x":6.17,"x2":6.34,"y":0.554,"y2":0.407,"v":0.42},{"x":6.34,"x2":6.49,"y":0.554,"y2":0.407,"v":0.45},{"x":6.49,"x2":6.7,"y":0.554,"y2":0.407,"v":0.62},{"x":6.7,"x2":7.27,"y":0.554,"y2":0.407,"v":0.65},{"x":7.27,"x2":8,"y":0.554,"y2":0.407,"v":0.14},
{"x":0,"x2":0.08,"y":0.407,"y2":0.26,"v":0.88},{"x":0.08,"x2":0.56,"y":0.407,"y2":0.26,"v":0.97},{"x":0.56,"x2":0.72,"y":0.407,"y2":0.26,"v":0.85},{"x":0.72,"x2":0.89,"y":0.407,"y2":0.26,"v":0.78},{"x":0.89,"x2":1.05,"y":0.407,"y2":0.26,"v":0.65},{"x":1.05,"x2":1.38,"y":0.407,"y2":0.26,"v":0.62},{"x":1.38,"x2":1.54,"y":0.407,"y2":0.26,"v":0.66},{"x":1.54,"x2":1.7,"y":0.407,"y2":0.26,"v":0.75},{"x":1.7,"x2":1.85,"y":0.407,"y2":0.26,"v":0.95},{"x":1.85,"x2":2.01,"y":0.407,"y2":0.26,"v":0.98},{"x":2.01,"x2":2.29,"y":0.407,"y2":0.26,"v":1.08},{"x":2.29,"x2":2.89,"y":0.407,"y2":0.26,"v":1.2},{"x":2.89,"x2":3.03,"y":0.407,"y2":0.26,"v":1.08},{"x":3.03,"x2":3.31,"y":0.407,"y2":0.26,"v":0.63},{"x":3.31,"x2":3.47,"y":0.407,"y2":0.26,"v":0.75},{"x":3.47,"x2":3.63,"y":0.407,"y2":0.26,"v":0.85},{"x":3.63,"x2":3.78,"y":0.407,"y2":0.26,"v":0.93},{"x":3.78,"x2":3.95,"y":0.407,"y2":0.26,"v":0.97},{"x":3.95,"x2":4.11,"y":0.407,"y2":0.26,"v":1.05},{"x":4.11,"x2":4.26,"y":0.407,"y2":0.26,"v":1.125},{"x":4.26,"x2":4.41,"y":0.407,"y2":0.26,"v":1.25},{"x":4.41,"x2":4.73,"y":0.407,"y2":0.26,"v":1.3},{"x":4.73,"x2":4.89,"y":0.407,"y2":0.26,"v":1.25},{"x":4.89,"x2":5.54,"y":0.407,"y2":0.26,"v":1.2},{"x":5.54,"x2":5.7,"y":0.407,"y2":0.26,"v":0.85},{"x":5.7,"x2":5.86,"y":0.407,"y2":0.26,"v":0.52},{"x":5.86,"x2":6.17,"y":0.407,"y2":0.26,"v":0.42},{"x":6.17,"x2":6.7,"y":0.407,"y2":0.26,"v":0.48},{"x":6.7,"x2":7.27,"y":0.407,"y2":0.26,"v":0.28},{"x":7.27,"x2":8,"y":0.407,"y2":0.26,"v":0.14},
{"x":0,"x2":0.6,"y":0.26,"y2":0.067,"v":0.78},{"x":0.6,"x2":0.76,"y":0.26,"y2":0.067,"v":0.72},{"x":0.76,"x2":1.14,"y":0.26,"y2":0.067,"v":0.65},{"x":1.14,"x2":1.31,"y":0.26,"y2":0.067,"v":0.75},{"x":1.31,"x2":1.49,"y":0.26,"y2":0.067,"v":0.8},{"x":1.49,"x2":1.66,"y":0.26,"y2":0.067,"v":1.0},{"x":1.66,"x2":1.85,"y":0.26,"y2":0.067,"v":1.125},{"x":1.85,"x2":2.23,"y":0.26,"y2":0.067,"v":1.2},{"x":2.23,"x2":2.91,"y":0.26,"y2":0.067,"v":1.28},{"x":2.91,"x2":3.07,"y":0.26,"y2":0.067,"v":1.0},{"x":3.07,"x2":3.43,"y":0.26,"y2":0.067,"v":0.65},{"x":3.43,"x2":3.62,"y":0.26,"y2":0.067,"v":0.82},{"x":3.62,"x2":3.79,"y":0.26,"y2":0.067,"v":1.0},{"x":3.79,"x2":3.95,"y":0.26,"y2":0.067,"v":1.1},{"x":3.95,"x2":4.14,"y":0.26,"y2":0.067,"v":1.22},{"x":4.14,"x2":4.32,"y":0.26,"y2":0.067,"v":1.27},{"x":4.32,"x2":4.5,"y":0.26,"y2":0.067,"v":1.3},{"x":4.5,"x2":4.7,"y":0.26,"y2":0.067,"v":1.36},{"x":4.7,"x2":5.21,"y":0.26,"y2":0.067,"v":1.3},{"x":5.21,"x2":5.54,"y":0.26,"y2":0.067,"v":1.22},{"x":5.54,"x2":5.74,"y":0.26,"y2":0.067,"v":1.125},{"x":5.74,"x2":5.9,"y":0.26,"y2":0.067,"v":0.62},{"x":5.9,"x2":6.46,"y":0.26,"y2":0.067,"v":0.52},{"x":6.46,"x2":6.81,"y":0.26,"y2":0.067,"v":0.6},{"x":6.81,"x2":7.27,"y":0.26,"y2":0.067,"v":0.52},{"x":7.27,"x2":8,"y":0.26,"y2":0.067,"v":0.14},
{"x":0,"x2":0.8,"y":0.067,"y2":-0.135,"v":0.66},{"x":0.8,"x2":1.0,"y":0.067,"y2":-0.135,"v":0.75},{"x":1.0,"x2":1.23,"y":0.067,"y2":-0.135,"v":0.82},{"x":1.23,"x2":1.42,"y":0.067,"y2":-0.135,"v":0.95},{"x":1.42,"x2":1.62,"y":0.067,"y2":-0.135,"v":1.05},{"x":1.62,"x2":2.01,"y":0.067,"y2":-0.135,"v":1.2},{"x":2.01,"x2":2.2,"y":0.067,"y2":-0.135,"v":1.25},{"x":2.2,"x2":2.8,"y":0.067,"y2":-0.135,"v":1.3},{"x":2.8,"x2":2.99,"y":0.067,"y2":-0.135,"v":1.2},{"x":2.99,"x2":3.2,"y":0.067,"y2":-0.135,"v":0.78},{"x":3.2,"x2":3.43,"y":0.067,"y2":-0.135,"v":0.67},{"x":3.43,"x2":3.62,"y":0.067,"y2":-0.135,"v":0.8},{"x":3.62,"x2":3.83,"y":0.067,"y2":-0.135,"v":0.97},{"x":3.83,"x2":4.03,"y":0.067,"y2":-0.135,"v":1.125},{"x":4.03,"x2":4.26,"y":0.067,"y2":-0.135,"v":1.2},{"x":4.26,"x2":4.46,"y":0.067,"y2":-0.135,"v":1.22},{"x":4.46,"x2":5.46,"y":0.067,"y2":-0.135,"v":1.3},{"x":5.46,"x2":5.65,"y":0.067,"y2":-0.135,"v":1.2},{"x":5.65,"x2":5.86,"y":0.067,"y2":-0.135,"v":1.125},{"x":5.86,"x2":6.06,"y":0.067,"y2":-0.135,"v":0.78},{"x":6.06,"x2":6.25,"y":0.067,"y2":-0.135,"v":0.67},{"x":6.25,"x2":6.94,"y":0.067,"y2":-0.135,"v":0.5},{"x":6.94,"x2":7.27,"y":0.067,"y2":-0.135,"v":0.47},{"x":7.27,"x2":7.77,"y":0.067,"y2":-0.135,"v":0.52},{"x":7.77,"x2":8,"y":0.067,"y2":-0.135,"v":0.62},
{"x":0,"x2":0.47,"y":-0.135,"y2":-0.392,"v":0.72},{"x":0.47,"x2":0.72,"y":-0.135,"y2":-0.392,"v":0.8},{"x":0.72,"x2":0.96,"y":-0.135,"y2":-0.392,"v":0.85},{"x":0.96,"x2":1.23,"y":-0.135,"y2":-0.392,"v":1.0},{"x":1.23,"x2":1.46,"y":-0.135,"y2":-0.392,"v":1.125},{"x":1.46,"x2":1.69,"y":-0.135,"y2":-0.392,"v":1.2},{"x":1.69,"x2":1.93,"y":-0.135,"y2":-0.392,"v":1.25},{"x":1.93,"x2":2.84,"y":-0.135,"y2":-0.392,"v":1.3},{"x":2.84,"x2":3.07,"y":-0.135,"y2":-0.392,"v":1.125},{"x":3.07,"x2":3.32,"y":-0.135,"y2":-0.392,"v":0.75},{"x":3.32,"x2":3.55,"y":-0.135,"y2":-0.392,"v":0.65},{"x":3.55,"x2":3.79,"y":-0.135,"y2":-0.392,"v":0.82},{"x":3.79,"x2":4.03,"y":-0.135,"y2":-0.392,"v":1.07},{"x":4.03,"x2":4.25,"y":-0.135,"y2":-0.392,"v":1.125},{"x":4.25,"x2":4.73,"y":-0.135,"y2":-0.392,"v":1.25},{"x":4.73,"x2":5.46,"y":-0.135,"y2":-0.392,"v":1.3},{"x":5.46,"x2":5.69,"y":-0.135,"y2":-0.392,"v":1.22},{"x":5.69,"x2":5.94,"y":-0.135,"y2":-0.392,"v":1.125},{"x":5.94,"x2":6.17,"y":-0.135,"y2":-0.392,"v":0.82},{"x":6.17,"x2":6.42,"y":-0.135,"y2":-0.392,"v":0.65},{"x":6.42,"x2":6.94,"y":-0.135,"y2":-0.392,"v":0.52},{"x":6.94,"x2":7.27,"y":-0.135,"y2":-0.392,"v":0.45},{"x":7.27,"x2":8,"y":-0.135,"y2":-0.392,"v":0.52},
{"x":0,"x2":0.23,"y":-0.392,"y2":-0.676,"v":0.93},{"x":0.23,"x2":0.51,"y":-0.392,"y2":-0.676,"v":0.98},{"x":0.51,"x2":0.8,"y":-0.392,"y2":-0.676,"v":1.07},{"x":0.8,"x2":1.1,"y":-0.392,"y2":-0.676,"v":1.125},{"x":1.1,"x2":1.39,"y":-0.392,"y2":-0.676,"v":1.25},{"x":1.39,"x2":1.93,"y":-0.392,"y2":-0.676,"v":1.28},{"x":1.93,"x2":2.74,"y":-0.392,"y2":-0.676,"v":1.37},{"x":2.74,"x2":2.99,"y":-0.392,"y2":-0.676,"v":1.27},{"x":2.99,"x2":3.27,"y":-0.392,"y2":-0.676,"v":0.85},{"x":3.27,"x2":3.83,"y":-0.392,"y2":-0.676,"v":0.75},{"x":3.83,"x2":4.11,"y":-0.392,"y2":-0.676,"v":0.95},{"x":4.11,"x2":4.36,"y":-0.392,"y2":-0.676,"v":1.125},{"x":4.36,"x2":4.65,"y":-0.392,"y2":-0.676,"v":1.2},{"x":4.65,"x2":5.51,"y":-0.392,"y2":-0.676,"v":1.28},{"x":5.51,"x2":5.77,"y":-0.392,"y2":-0.676,"v":1.22},{"x":5.77,"x2":6.06,"y":-0.392,"y2":-0.676,"v":1.125},{"x":6.06,"x2":6.34,"y":-0.392,"y2":-0.676,"v":0.85},{"x":6.34,"x2":6.61,"y":-0.392,"y2":-0.676,"v":0.73},{"x":6.61,"x2":6.94,"y":-0.392,"y2":-0.676,"v":0.6},{"x":6.94,"x2":7.27,"y":-0.392,"y2":-0.676,"v":0.52},{"x":7.27,"x2":7.77,"y":-0.392,"y2":-0.676,"v":0.45},{"x":7.77,"x2":8,"y":-0.392,"y2":-0.676,"v":0.6},
{"x":0,"x2":0.27,"y":-0.676,"y2":-1.025,"v":1.125},{"x":0.27,"x2":0.6,"y":-0.676,"y2":-1.025,"v":1.2},{"x":0.6,"x2":0.92,"y":-0.676,"y2":-1.025,"v":1.22},{"x":0.92,"x2":1.26,"y":-0.676,"y2":-1.025,"v":1.28},{"x":1.26,"x2":1.88,"y":-0.676,"y2":-1.025,"v":1.38},{"x":1.88,"x2":2.52,"y":-0.676,"y2":-1.025,"v":1.42},{"x":2.52,"x2":2.82,"y":-0.676,"y2":-1.025,"v":1.36},{"x":2.82,"x2":3.15,"y":-0.676,"y2":-1.025,"v":1.25},{"x":3.15,"x2":3.47,"y":-0.676,"y2":-1.025,"v":0.85},{"x":3.47,"x2":3.79,"y":-0.676,"y2":-1.025,"v":0.75},{"x":3.79,"x2":4.11,"y":-0.676,"y2":-1.025,"v":0.8},{"x":4.11,"x2":4.41,"y":-0.676,"y2":-1.025,"v":0.78},{"x":4.41,"x2":4.73,"y":-0.676,"y2":-1.025,"v":0.95},{"x":4.73,"x2":5.06,"y":-0.676,"y2":-1.025,"v":1.2},{"x":5.06,"x2":5.38,"y":-0.676,"y2":-1.025,"v":1.25},{"x":5.38,"x2":5.69,"y":-0.676,"y2":-1.025,"v":1.2},{"x":5.69,"x2":6.02,"y":-0.676,"y2":-1.025,"v":1.07},{"x":6.02,"x2":6.34,"y":-0.676,"y2":-1.025,"v":0.95},{"x":6.34,"x2":6.7,"y":-0.676,"y2":-1.025,"v":0.8},{"x":6.7,"x2":7.09,"y":-0.676,"y2":-1.025,"v":0.75},{"x":7.09,"x2":7.49,"y":-0.676,"y2":-1.025,"v":0.66},{"x":7.49,"x2":8,"y":-0.676,"y2":-1.025,"v":0.52},
{"x":0,"x2":0.12,"y":-1.025,"y2":-1.42,"v":1.3},{"x":0.12,"x2":0.51,"y":-1.025,"y2":-1.42,"v":1.27},{"x":0.51,"x2":0.89,"y":-1.025,"y2":-1.42,"v":1.36},{"x":0.89,"x2":1.62,"y":-1.025,"y2":-1.42,"v":1.42},{"x":1.62,"x2":2.74,"y":-1.025,"y2":-1.42,"v":1.5},{"x":2.74,"x2":3.1,"y":-1.025,"y2":-1.42,"v":1.37},{"x":3.1,"x2":3.47,"y":-1.025,"y2":-1.42,"v":1.125},{"x":3.47,"x2":3.83,"y":-1.025,"y2":-1.42,"v":0.93},{"x":3.83,"x2":4.21,"y":-1.025,"y2":-1.42,"v":0.85},{"x":4.21,"x2":4.57,"y":-1.025,"y2":-1.42,"v":0.95},{"x":4.57,"x2":4.93,"y":-1.025,"y2":-1.42,"v":0.98},{"x":4.93,"x2":6.38,"y":-1.025,"y2":-1.42,"v":1.08},{"x":6.38,"x2":6.81,"y":-1.025,"y2":-1.42,"v":1.0},{"x":6.81,"x2":7.27,"y":-1.025,"y2":-1.42,"v":0.95},{"x":7.27,"x2":8,"y":-1.025,"y2":-1.42,"v":0.85},
{"x":0,"x2":0.8,"y":-1.42,"y2":-1.879,"v":1.45},{"x":0.8,"x2":1.23,"y":-1.42,"y2":-1.879,"v":1.52},{"x":1.23,"x2":2.53,"y":-1.42,"y2":-1.879,"v":1.65},{"x":2.53,"x2":2.95,"y":-1.42,"y2":-1.879,"v":1.52},{"x":2.95,"x2":3.36,"y":-1.42,"y2":-1.879,"v":1.38},{"x":3.36,"x2":3.81,"y":-1.42,"y2":-1.879,"v":1.25},{"x":3.81,"x2":4.24,"y":-1.42,"y2":-1.879,"v":1.22},{"x":4.24,"x2":4.68,"y":-1.42,"y2":-1.879,"v":1.17},{"x":4.68,"x2":5.12,"y":-1.42,"y2":-1.879,"v":1.22},{"x":5.12,"x2":6.01,"y":-1.42,"y2":-1.879,"v":1.27},{"x":6.01,"x2":6.46,"y":-1.42,"y2":-1.879,"v":1.35},{"x":6.46,"x2":6.98,"y":-1.42,"y2":-1.879,"v":1.27},{"x":6.98,"x2":7.52,"y":-1.42,"y2":-1.879,"v":1.2},{"x":7.52,"x2":8,"y":-1.42,"y2":-1.879,"v":1.17},
{"x":0,"x2":0.36,"y":-1.879,"y2":-2.412,"v":1.58},{"x":0.36,"x2":1.36,"y":-1.879,"y2":-2.412,"v":1.68},{"x":1.36,"x2":2.38,"y":-1.879,"y2":-2.412,"v":1.73},{"x":2.38,"x2":2.88,"y":-1.879,"y2":-2.412,"v":1.68},{"x":2.88,"x2":3.36,"y":-1.879,"y2":-2.412,"v":1.65},{"x":3.36,"x2":5.41,"y":-1.879,"y2":-2.412,"v":1.52},{"x":5.41,"x2":6.41,"y":-1.879,"y2":-2.412,"v":1.63},{"x":6.41,"x2":6.98,"y":-1.879,"y2":-2.412,"v":1.55},{"x":6.98,"x2":8,"y":-1.879,"y2":-2.412,"v":1.5},
{"x":0,"x2":0.89,"y":-2.412,"y2":-3.036,"v":1.83},{"x":0.89,"x2":2.66,"y":-2.412,"y2":-3.036,"v":1.87},{"x":2.66,"x2":7.31,"y":-2.412,"y2":-3.036,"v":1.83},{"x":7.31,"x2":8,"y":-2.412,"y2":-3.036,"v":1.72},
{"x":0,"x2":5.25,"y":-3.036,"y2":-3.761,"v":2.02},{"x":5.25,"x2":5.93,"y":-3.036,"y2":-3.761,"v":2.11},{"x":5.93,"x2":8,"y":-3.036,"y2":-3.761,"v":2.02},
{"x":0,"x2":3.76,"y":-3.761,"y2":-3.99,"v":2.17},{"x":3.76,"x2":6.98,"y":-3.761,"y2":-3.99,"v":2.22},{"x":6.98,"x2":8,"y":-3.761,"y2":-3.99,"v":2.17},
{"x":0,"x2":1.43,"y":-3.99,"y2":-4,"v":2.35},{"x":1.43,"x2":8,"y":-3.99,"y2":-4,"v":2.55}
],
"bar":[
{"lo":0,"hi":0.047,"v":0.023},{"lo":0.047,"hi":0.094,"v":0.07},{"lo":0.094,"hi":0.141,"v":0.117},{"lo":0.141,"hi":0.188,"v":0.164},{"lo":0.188,"hi":0.234,"v":0.211},{"lo":0.234,"hi":0.281,"v":0.258},{"lo":0.281,"hi":0.328,"v":0.305},{"lo":0.328,"hi":0.375,"v":0.352},{"lo":0.375,"hi":0.422,"v":0.398},{"lo":0.422,"hi":0.469,"v":0.445},{"lo":0.469,"hi":0.516,"v":0.492},{"lo":0.516,"hi":0.563,"v":0.539},{"lo":0.563,"hi":0.609,"v":0.586},{"lo":0.609,"hi":0.656,"v":0.633},{"lo":0.656,"hi":0.703,"v":0.68},{"lo":0.703,"hi":0.75,"v":0.727},{"lo":0.75,"hi":0.797,"v":0.773},{"lo":0.797,"hi":0.844,"v":0.82},{"lo":0.844,"hi":0.891,"v":0.867},{"lo":0.891,"hi":0.938,"v":0.914},{"lo":0.938,"hi":0.984,"v":0.961},{"lo":0.984,"hi":1.031,"v":1.008},{"lo":1.031,"hi":1.078,"v":1.055},{"lo":1.078,"hi":1.125,"v":1.102},{"lo":1.125,"hi":1.172,"v":1.148},{"lo":1.172,"hi":1.219,"v":1.195},{"lo":1.219,"hi":1.266,"v":1.242},{"lo":1.266,"hi":1.313,"v":1.289},{"lo":1.313,"hi":1.359,"v":1.336},{"lo":1.359,"hi":1.406,"v":1.383},{"lo":1.406,"hi":1.453,"v":1.43},{"lo":1.453,"hi":1.5,"v":1.477},{"lo":1.5,"hi":1.547,"v":1.523},{"lo":1.547,"hi":1.594,"v":1.57},{"lo":1.594,"hi":1.641,"v":1.617},{"lo":1.641,"hi":1.688,"v":1.664},{"lo":1.688,"hi":1.734,"v":1.711},{"lo":1.734,"hi":1.781,"v":1.758},{"lo":1.781,"hi":1.828,"v":1.805},{"lo":1.828,"hi":1.875,"v":1.852},{"lo":1.875,"hi":1.922,"v":1.898},{"lo":1.922,"hi":1.969,"v":1.945},{"lo":1.969,"hi":2.016,"v":1.992},{"lo":2.016,"hi":2.063,"v":2.039},{"lo":2.063,"hi":2.109,"v":2.086},{"lo":2.109,"hi":2.156,"v":2.133},{"lo":2.156,"hi":2.203,"v":2.18},{"lo":2.203,"hi":2.25,"v":2.227},{"lo":2.25,"hi":2.297,"v":2.273},{"lo":2.297,"hi":2.344,"v":2.32},{"lo":2.344,"hi":2.391,"v":2.367},{"lo":2.391,"hi":2.438,"v":2.414},{"lo":2.438,"hi":2.484,"v":2.461},{"lo":2.484,"hi":2.531,"v":2.508},{"lo":2.531,"hi":2.578,"v":2.555},{"lo":2.578,"hi":2.625,"v":2.602},{"lo":2.625,"hi":2.672,"v":2.648},{"lo":2.672,"hi":2.719,"v":2.695},{"lo":2.719,"hi":2.766,"v":2.742},{"lo":2.766,"hi":2.813,"v":2.789},{"lo":2.813,"hi":2.859,"v":2.836},{"lo":2.859,"hi":2.906,"v":2.883},{"lo":2.906,"hi":2.953,"v":2.93},{"lo":2.953,"hi":3,"v":2.977}
]},
"hconcat":[
{"width":867,"height":653.5,
"layer":[
{"data":{"name":"cells"},"mark":{"type":"rect","strokeWidth":0.6},
"encoding":{
"x":{"field":"x","type":"quantitative","scale":{"domain":[0,8],"nice":false,"zero":false},
"axis":{"title":"Distance, km","values":[0,1,2,3,4,5,6,7,8],"format":"d","grid":false,"domain":false,"ticks":false,"labelFontSize":24,"labelColor":"#000","labelPadding":13,"labelFont":"Liberation Sans","titleFontSize":27,"titleFontWeight":"normal","titleColor":"#000","titleFont":"Liberation Sans","titleX":432,"titleY":42,"labelFlush":false}},
"x2":{"field":"x2"},
"y":{"field":"y","type":"quantitative","scale":{"domain":[-4,2],"nice":false,"zero":false},
"axis":{"title":"Elevation,km","values":[-4,-3,-2,-1,0,1,2],"format":"d","grid":false,"domainColor":"#000","domainWidth":1.5,"tickColor":"#000","tickWidth":1.5,"tickSize":-10,"tickOpacity":{"condition":{"test":"datum.value === 2","value":1},"value":0},"labelFontSize":24,"labelColor":"#000","labelPadding":19,"labelFont":"Liberation Sans","titleFontSize":23,"titleFontWeight":"normal","titleColor":"#000","titleFont":"Liberation Sans","titleX":-50,"titleY":497,"labelFlush":false}},
"y2":{"field":"y2"},
"color":{"field":"v","type":"quantitative","legend":null,"scale":{"domain":[0,0.375,1.125,1.875,2.625,3],"range":["#800000","#ff0000","#ffff00","#00ffff","#0000ff","#000080"],"interpolate":"rgb"}},
"stroke":{"field":"v","type":"quantitative","legend":null,"scale":{"domain":[0,0.375,1.125,1.875,2.625,3],"range":["#800000","#ff0000","#ffff00","#00ffff","#0000ff","#000080"],"interpolate":"rgb"}}
}},
{"data":{"values":[{"t":"W","x":0.57,"y":2.39},{"t":"E","x":7.68,"y":2.39}]},"mark":{"type":"text","fontSize":43,"font":"Liberation Sans","color":"#000","baseline":"middle","align":"center"},
"encoding":{"x":{"field":"x","type":"quantitative"},"y":{"field":"y","type":"quantitative"},"text":{"field":"t"}}},
{"data":{"values":[{"t":"2−D MT profile  Across Telaga Bodas, LINE TA","x":4.13,"y":1.82}]},"mark":{"type":"text","fontSize":27.5,"font":"Liberation Sans","color":"#000","baseline":"middle","align":"center"},
"encoding":{"x":{"field":"x","type":"quantitative"},"y":{"field":"y","type":"quantitative"},"text":{"field":"t"}}}
]},
{"width":51,"height":653.5,
"layer":[
{"data":{"name":"bar"},"mark":{"type":"rect","strokeWidth":0.5},
"encoding":{
"x":{"datum":0,"type":"quantitative","scale":{"domain":[0,1],"nice":false},"axis":null},
"x2":{"datum":1},
"y":{"field":"lo","type":"quantitative","scale":{"domain":[-0.569,3.473],"nice":false,"zero":false},
"axis":{"orient":"right","title":null,"values":[0,0.5,1,1.5,2,2.5,3],"format":"d","labelExpr":"datum.value % 1 === 0 ? datum.label : ''","grid":false,"domain":false,"tickSize":-5,"tickColor":"#111","tickWidth":1.2,"zindex":1,"labelFontSize":20,"labelColor":"#000","labelPadding":12,"labelFont":"Liberation Sans"}},
"y2":{"field":"hi"},
"color":{"field":"v","type":"quantitative","legend":null,"scale":{"domain":[0,0.375,1.125,1.875,2.625,3],"range":["#800000","#ff0000","#ffff00","#00ffff","#0000ff","#000080"],"interpolate":"rgb"}},
"stroke":{"field":"v","type":"quantitative","legend":null,"scale":{"domain":[0,0.375,1.125,1.875,2.625,3],"range":["#800000","#ff0000","#ffff00","#00ffff","#0000ff","#000080"],"interpolate":"rgb"}}
}},
{"data":{"values":[{"lo":0,"hi":3}]},"mark":{"type":"rect","fill":null,"stroke":"#333","strokeWidth":1},
"encoding":{
"x":{"datum":0,"type":"quantitative"},"x2":{"datum":1},
"y":{"field":"lo","type":"quantitative","axis":{"orient":"left","title":null,"values":[0.5,1,1.5,2,2.5],"labels":false,"grid":false,"domain":false,"tickSize":-5,"tickColor":"#111","tickWidth":1.2,"zindex":1}},
"y2":{"field":"hi"}}},
{"data":{"values":[{"t":"log ρ (Ω.m)","x":0.47,"y":3.26}]},"mark":{"type":"text","fontSize":26,"font":"Liberation Sans","color":"#000","baseline":"middle","align":"center"},
"encoding":{"x":{"field":"x","type":"quantitative"},"y":{"field":"y","type":"quantitative","axis":null},"text":{"field":"t"}}}
],
"resolve":{"axis":{"y":"independent"}}
}
]
}
